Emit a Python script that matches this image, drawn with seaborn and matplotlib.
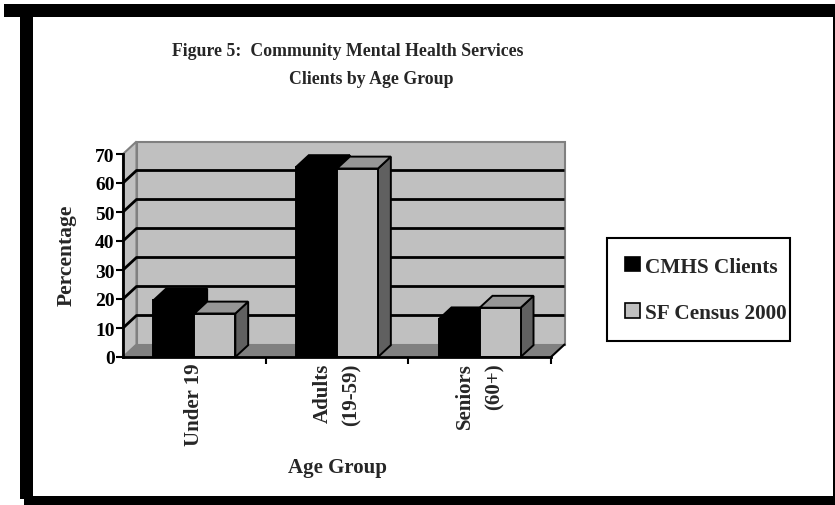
import numpy as np
import pandas as pd
import matplotlib
matplotlib.use("Agg")
import matplotlib.pyplot as plt
from matplotlib.patches import Polygon, Rectangle, Patch
import seaborn as sns

# ---- data ----
age_groups = ["Under 19", "Adults\n(19-59)", "Seniors\n(60+)"]
series_names = ["CMHS Clients", "SF Census 2000"]
cmhs_clients = [19.5, 65.5, 13.0]
sf_census_2000 = [15.0, 65.0, 17.0]
y_ticks = [0, 10, 20, 30, 40, 50, 60, 70]

df = pd.DataFrame({
    "group": age_groups * 2,
    "pct": cmhs_clients + sf_census_2000,
    "series": [series_names[0]] * 3 + [series_names[1]] * 3,
})

sns.set_theme(style="white")
plt.rcParams["font.family"] = ["Liberation Serif", "DejaVu Serif"]
plt.rcParams["font.weight"] = "bold"

W, H = 835, 506
fig = plt.figure(figsize=(W / 100, H / 100), dpi=100, facecolor="white")


def fx(x):
    return x / W


def fy(y):
    return 1 - y / H


# scanned black frame around the page
frame_kw = dict(transform=fig.transFigure, facecolor="black", edgecolor="none", zorder=0)
fig.patches.append(Rectangle((fx(4), fy(18)), fx(831), 13 / H, **frame_kw))
fig.patches.append(Rectangle((fx(20), fy(500)), fx(13), 490 / H, **frame_kw))
fig.patches.append(Rectangle((fx(24), 0), fx(811), 9 / H, **frame_kw))
fig.patches.append(Rectangle((fx(833), fy(498)), fx(2), 480 / H, **frame_kw))

# front plane of the plot
ax = fig.add_axes([fx(123), fy(358), fx(551 - 123), (358 - 155) / H])
ax.set_facecolor("none")

WALL = "#C0C0C0"
FLOOR = "#808080"
EDGE = "#808080"

sns.barplot(data=df, x="group", y="pct", hue="series", order=age_groups,
            hue_order=series_names, palette=["black", WALL], saturation=1,
            width=0.575, edgecolor="black", linewidth=1.4, legend=False, ax=ax)
bars = sorted(ax.patches, key=lambda p: p.get_x())

ax.set_xlim(-0.5, 2.5)
ax.set_ylim(0, 70)

# depth offsets of the 3-D box in data units
dx = 13.5 / ((551 - 123) / 3)
dy = 12.5 / ((358 - 155) / 70)

x0, x1 = -0.5, 2.5
back_wall = Polygon([(x0 + dx, dy), (x1 + dx, dy), (x1 + dx, 70 + dy), (x0 + dx, 70 + dy)],
                    closed=True, facecolor=WALL, edgecolor=EDGE, lw=1.5, zorder=0.3, clip_on=False)
side_wall = Polygon([(x0, 0), (x0 + dx, dy), (x0 + dx, 70 + dy), (x0, 70)],
                    closed=True, facecolor=WALL, edgecolor=EDGE, lw=1.5, zorder=0.3, clip_on=False)
floor = Polygon([(x0, 0), (x1, 0), (x1 + dx, dy), (x0 + dx, dy)],
                closed=True, facecolor=FLOOR, edgecolor="none", zorder=0.4, clip_on=False)
for p in (back_wall, side_wall, floor):
    ax.add_patch(p)

# gridlines running along the side wall and the back wall
for v in y_ticks[1:-1]:
    ax.plot([x0, x0 + dx, x1 + dx], [v, v + dy, v + dy], color="black", lw=2,
            zorder=0.5, clip_on=False, solid_capstyle="butt")
ax.plot([x1, x1 + dx], [0, dy], color="black", lw=1.5, zorder=0.5, clip_on=False)

# top and side faces of each bar
shade = {"black": ("black", "black"), "grey": ("#969696", "#606060")}
bdx, bdy = dx * 0.95, dy * 0.95
for i, p in enumerate(bars):
    bx, bw, bh = p.get_x(), p.get_width(), p.get_height()
    fc = p.get_facecolor()
    key = "black" if fc[0] < 0.1 else "grey"
    top_c, side_c = shade[key]
    z = 2 + i * 0.1
    side = Polygon([(bx + bw, 0), (bx + bw + bdx, bdy), (bx + bw + bdx, bh + bdy), (bx + bw, bh)],
                   closed=True, facecolor=side_c, edgecolor="black", lw=1.4, zorder=z, clip_on=False)
    top = Polygon([(bx, bh), (bx + bw, bh), (bx + bw + bdx, bh + bdy), (bx + bdx, bh + bdy)],
                  closed=True, facecolor=top_c, edgecolor="black", lw=1.4, zorder=z, clip_on=False)
    ax.add_patch(side)
    ax.add_patch(top)
    p.set_zorder(z + 0.05)
    p.set_clip_on(False)

# axes lines and ticks
for s in ("top", "right"):
    ax.spines[s].set_visible(False)
for s in ("left", "bottom"):
    ax.spines[s].set_linewidth(2)
    ax.spines[s].set_color("black")
    ax.spines[s].set_zorder(5)

ax.set_yticks(y_ticks)
ax.set_yticklabels([str(t) for t in y_ticks], fontsize=14, fontweight="bold")
ax.tick_params(axis="y", direction="out", length=5, width=1.5, pad=1, left=True, colors="black")
ax.set_xticks([0, 1, 2])
ax.set_xticklabels(age_groups, rotation=90, fontsize=15, fontweight="bold",
                   va="top", ha="center", multialignment="right", linespacing=1.6)
ax.set_xticks([0.5, 1.5, 2.5], minor=True)
ax.tick_params(axis="x", which="major", length=0, pad=4, bottom=True)
ax.tick_params(axis="x", which="minor", direction="out", length=5, width=1.5, bottom=True, color="black")
ax.set_xlabel("")
ax.set_ylabel("")

# titles and axis labels
fig.text(fx(348), fy(51), "Figure 5:  Community Mental Health Services", fontsize=12.8,
         fontweight="bold", ha="center", va="center")
fig.text(fx(371), fy(80), "Clients by Age Group", fontsize=12.8,
         fontweight="bold", ha="center", va="center")
fig.text(fx(67), fy(255), "Percentage", fontsize=15.5, fontweight="bold",
         rotation=90, ha="center", va="center")
fig.text(fx(337), fy(468), "Age Group", fontsize=15, fontweight="bold",
         ha="center", va="center")

# legend
handles = [Patch(facecolor="black", edgecolor="black", lw=1.2),
           Patch(facecolor=WALL, edgecolor="black", lw=1.2)]
leg = ax.legend(handles, series_names, loc="upper left",
                bbox_to_anchor=(fx(607), fy(240), fx(790 - 607), 0.001),
                bbox_transform=fig.transFigure, mode="expand", frameon=True, fancybox=False,
                edgecolor="black", framealpha=1, prop={"size": 15.3, "weight": "bold"},
                handlelength=0.68, handleheight=0.68, handletextpad=0.28,
                labelspacing=1.25, borderpad=0.85, borderaxespad=0)
leg.get_frame().set_linewidth(1.5)

fig.savefig("out.png", dpi=100, facecolor="white")
